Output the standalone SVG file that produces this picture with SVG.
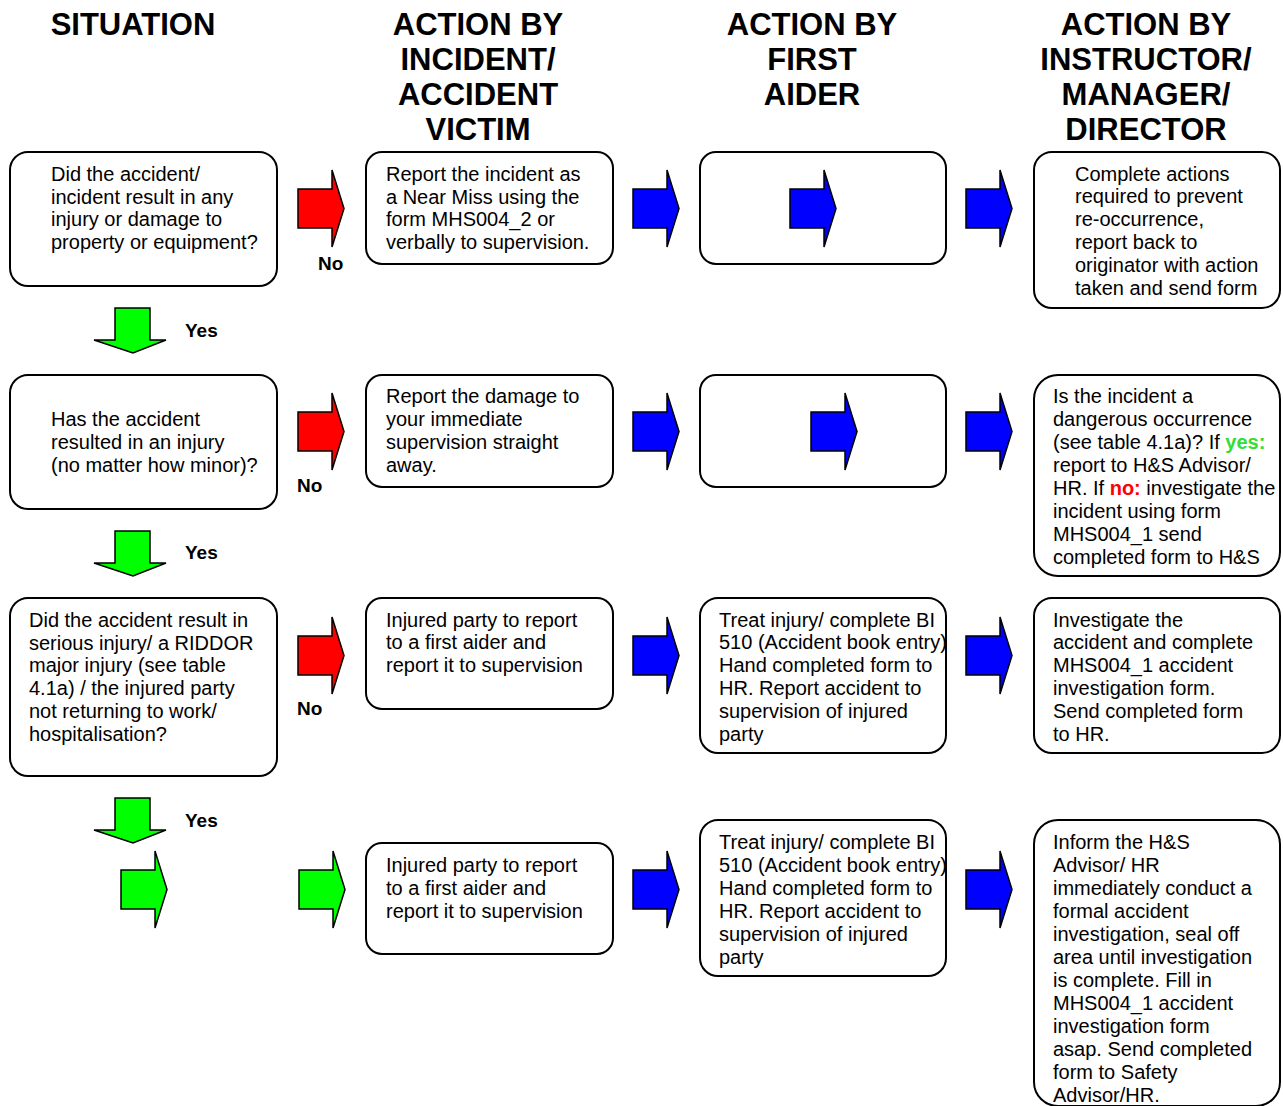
<svg xmlns="http://www.w3.org/2000/svg" width="1283" height="1106" viewBox="0 0 1283 1106">
<style>
.hdr{font-family:"Liberation Sans",Arial,sans-serif;font-weight:bold;font-size:31px;fill:#000;text-anchor:middle}
.t{font-family:"Liberation Sans",Arial,sans-serif;font-size:20px;fill:#000}
.lbl{font-family:"Liberation Sans",Arial,sans-serif;font-weight:bold;font-size:19px;fill:#000}
.box{fill:#fff;stroke:#000;stroke-width:2}
.red{fill:#ff0000;stroke:#000;stroke-width:1.5}
.blue{fill:#0000ff;stroke:#000;stroke-width:1.5}
.green{fill:#00ff00;stroke:#000;stroke-width:1.5}
</style>
<defs>
<path id="ra" d="M0,19 L34,19 L34,0 L46,38.5 L34,77 L34,58 L0,58 Z"/>
<path id="da" d="M21,0 L56,0 L56,32 L72,32 L39,45 L0,32 L21,32 Z"/>
</defs>
<rect width="1283" height="1106" fill="#fff"/>

<g id="headers">
<text class="hdr" x="133" y="35">SITUATION</text>
<text class="hdr" x="478" y="35">ACTION BY</text>
<text class="hdr" x="478" y="70">INCIDENT/</text>
<text class="hdr" x="478" y="105">ACCIDENT</text>
<text class="hdr" x="478" y="140">VICTIM</text>
<text class="hdr" x="812" y="35">ACTION BY</text>
<text class="hdr" x="812" y="70">FIRST</text>
<text class="hdr" x="812" y="105">AIDER</text>
<text class="hdr" x="1146" y="35">ACTION BY</text>
<text class="hdr" x="1146" y="70">INSTRUCTOR/</text>
<text class="hdr" x="1146" y="105">MANAGER/</text>
<text class="hdr" x="1146" y="140">DIRECTOR</text>
</g>

<!-- Row 1 -->
<g id="s1">
<rect class="box" x="10" y="152" width="267" height="134" rx="18"/>
<text class="t" x="51" y="181">Did the accident/</text>
<text class="t" x="51" y="204">incident result in any</text>
<text class="t" x="51" y="226">injury or damage to</text>
<text class="t" x="51" y="249">property or equipment?</text>
</g>
<g id="v1">
<rect class="box" x="366" y="152" width="247" height="112" rx="16"/>
<text class="t" x="386" y="181">Report the incident as</text>
<text class="t" x="386" y="204">a Near Miss using the</text>
<text class="t" x="386" y="226">form MHS004_2 or</text>
<text class="t" x="386" y="249">verbally to supervision.</text>
</g>
<g id="f1">
<rect class="box" x="700" y="152" width="246" height="112" rx="16"/>
</g>
<g id="m1">
<rect class="box" x="1034" y="152" width="246" height="156" rx="18"/>
<text class="t" x="1075" y="181">Complete actions</text>
<text class="t" x="1075" y="203">required to prevent</text>
<text class="t" x="1075" y="226">re-occurrence,</text>
<text class="t" x="1075" y="249">report back to</text>
<text class="t" x="1075" y="272">originator with action</text>
<text class="t" x="1075" y="295">taken and send form</text>
</g>

<!-- Row 2 -->
<g id="s2">
<rect class="box" x="10" y="375" width="267" height="134" rx="18"/>
<text class="t" x="51" y="426">Has the accident</text>
<text class="t" x="51" y="449">resulted in an injury</text>
<text class="t" x="51" y="472">(no matter how minor)?</text>
</g>
<g id="v2">
<rect class="box" x="366" y="375" width="247" height="112" rx="16"/>
<text class="t" x="386" y="403">Report the damage to</text>
<text class="t" x="386" y="426">your immediate</text>
<text class="t" x="386" y="449">supervision straight</text>
<text class="t" x="386" y="472">away.</text>
</g>
<g id="f2">
<rect class="box" x="700" y="375" width="246" height="112" rx="16"/>
</g>
<g id="m2">
<rect class="box" x="1034" y="375" width="246" height="201" rx="24"/>
<text class="t" x="1053" y="403">Is the incident a</text>
<text class="t" x="1053" y="426">dangerous occurrence</text>
<text class="t" x="1053" y="449">(see table 4.1a)? If <tspan font-weight="bold" fill="#33dd33">yes:</tspan></text>
<text class="t" x="1053" y="472">report to H&amp;S Advisor/</text>
<text class="t" x="1053" y="495">HR. If <tspan font-weight="bold" fill="#ff0000">no:</tspan> investigate the</text>
<text class="t" x="1053" y="518">incident using form</text>
<text class="t" x="1053" y="541">MHS004_1 send</text>
<text class="t" x="1053" y="564">completed form to H&amp;S</text>
</g>

<!-- Row 3 -->
<g id="s3">
<rect class="box" x="10" y="598" width="267" height="178" rx="18"/>
<text class="t" x="29" y="627">Did the accident result in</text>
<text class="t" x="29" y="650">serious injury/ a RIDDOR</text>
<text class="t" x="29" y="672">major injury (see table</text>
<text class="t" x="29" y="695">4.1a) / the injured party</text>
<text class="t" x="29" y="718">not returning to work/</text>
<text class="t" x="29" y="741">hospitalisation?</text>
</g>
<g id="v3">
<rect class="box" x="366" y="598" width="247" height="111" rx="16"/>
<text class="t" x="386" y="627">Injured party to report</text>
<text class="t" x="386" y="649">to a first aider and</text>
<text class="t" x="386" y="672">report it to supervision</text>
</g>
<g id="f3">
<rect class="box" x="700" y="598" width="246" height="155" rx="18"/>
<text class="t" x="719" y="627">Treat injury/ complete BI</text>
<text class="t" x="719" y="649">510 (Accident book entry)</text>
<text class="t" x="719" y="672">Hand completed form to</text>
<text class="t" x="719" y="695">HR. Report accident to</text>
<text class="t" x="719" y="718">supervision of injured</text>
<text class="t" x="719" y="741">party</text>
</g>
<g id="m3">
<rect class="box" x="1034" y="598" width="246" height="155" rx="18"/>
<text class="t" x="1053" y="627">Investigate the</text>
<text class="t" x="1053" y="649">accident and complete</text>
<text class="t" x="1053" y="672">MHS004_1 accident</text>
<text class="t" x="1053" y="695">investigation form.</text>
<text class="t" x="1053" y="718">Send completed form</text>
<text class="t" x="1053" y="741">to HR.</text>
</g>

<!-- Row 4 -->
<g id="v4">
<rect class="box" x="366" y="843" width="247" height="111" rx="16"/>
<text class="t" x="386" y="872">Injured party to report</text>
<text class="t" x="386" y="895">to a first aider and</text>
<text class="t" x="386" y="918">report it to supervision</text>
</g>
<g id="f4">
<rect class="box" x="700" y="820" width="246" height="156" rx="18"/>
<text class="t" x="719" y="849">Treat injury/ complete BI</text>
<text class="t" x="719" y="872">510 (Accident book entry)</text>
<text class="t" x="719" y="895">Hand completed form to</text>
<text class="t" x="719" y="918">HR. Report accident to</text>
<text class="t" x="719" y="941">supervision of injured</text>
<text class="t" x="719" y="964">party</text>
</g>
<g id="m4">
<rect class="box" x="1034" y="820" width="246" height="286" rx="24"/>
<text class="t" x="1053" y="849">Inform the H&amp;S</text>
<text class="t" x="1053" y="872">Advisor/ HR</text>
<text class="t" x="1053" y="895">immediately conduct a</text>
<text class="t" x="1053" y="918">formal accident</text>
<text class="t" x="1053" y="941">investigation, seal off</text>
<text class="t" x="1053" y="964">area until investigation</text>
<text class="t" x="1053" y="987">is complete. Fill in</text>
<text class="t" x="1053" y="1010">MHS004_1 accident</text>
<text class="t" x="1053" y="1033">investigation form</text>
<text class="t" x="1053" y="1056">asap. Send completed</text>
<text class="t" x="1053" y="1079">form to Safety</text>
<text class="t" x="1053" y="1102">Advisor/HR.</text>
</g>

<g id="connectors">
<!-- row 1 -->
<use href="#ra" class="red" x="298" y="170"/>
<use href="#ra" class="blue" x="633" y="170"/>
<use href="#ra" class="blue" x="790" y="170"/>
<use href="#ra" class="blue" x="966" y="170"/>
<text class="lbl" x="318" y="270">No</text>
<!-- row 2 -->
<use href="#ra" class="red" x="298" y="393"/>
<use href="#ra" class="blue" x="633" y="393"/>
<use href="#ra" class="blue" x="811" y="393"/>
<use href="#ra" class="blue" x="966" y="393"/>
<text class="lbl" x="297" y="492">No</text>
<!-- row 3 -->
<use href="#ra" class="red" x="298" y="617"/>
<use href="#ra" class="blue" x="633" y="617"/>
<use href="#ra" class="blue" x="966" y="617"/>
<text class="lbl" x="297" y="715">No</text>
<!-- row 4 -->
<use href="#ra" class="green" x="121" y="851"/>
<use href="#ra" class="green" x="299" y="851"/>
<use href="#ra" class="blue" x="633" y="851"/>
<use href="#ra" class="blue" x="966" y="851"/>
<!-- down arrows -->
<use href="#da" class="green" x="94" y="308"/>
<text class="lbl" x="185" y="337">Yes</text>
<use href="#da" class="green" x="94" y="531"/>
<text class="lbl" x="185" y="559">Yes</text>
<use href="#da" class="green" x="94" y="798"/>
<text class="lbl" x="185" y="827">Yes</text>
</g>
</svg>
